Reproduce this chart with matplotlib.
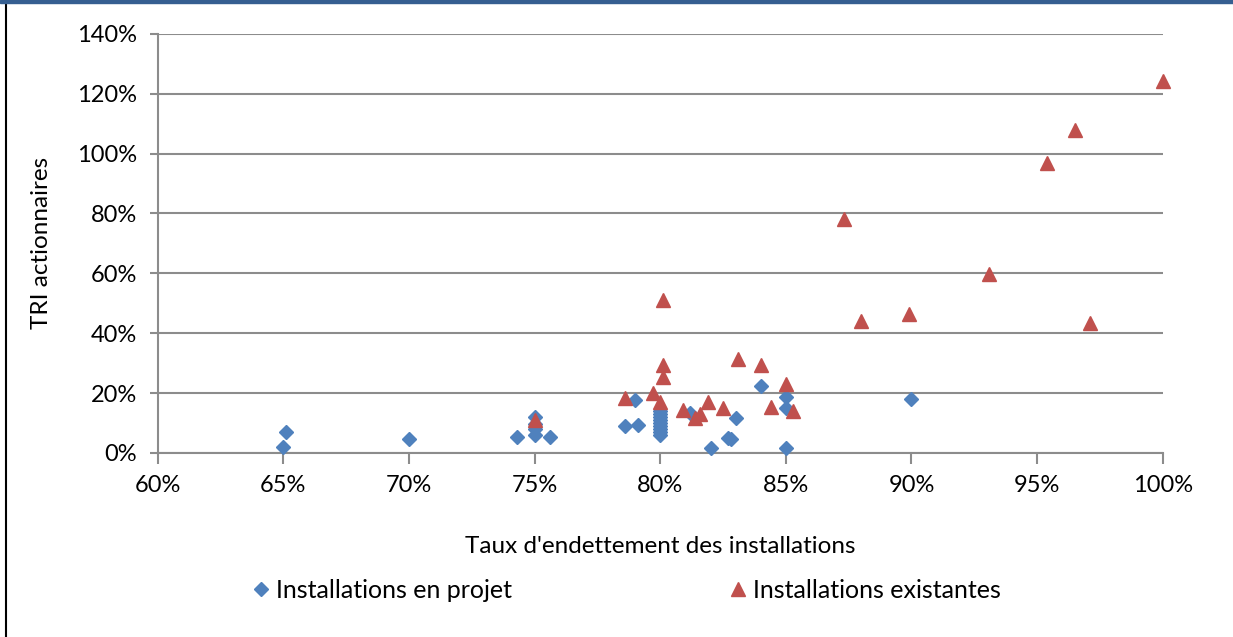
import matplotlib.pyplot as plt
from matplotlib.lines import Line2D
from matplotlib.patches import Rectangle
from matplotlib.ticker import PercentFormatter

# Installations en projet (taux d'endettement %, TRI %)
projet_x = [65.0, 65.1, 70.0, 74.3, 75.0, 75.0, 75.0, 75.0, 75.6,
            78.6, 79.0, 79.1, 80.0, 80.0, 80.0, 80.0, 80.0, 80.0, 80.0, 80.0, 80.0,
            81.2, 82.0, 82.7, 82.8, 83.0, 84.0, 85.0, 85.0, 85.0, 90.0]
projet_y = [2.0, 7.0, 4.6, 5.3, 12.0, 9.5, 8.0, 6.0, 5.3,
            9.0, 17.7, 9.4, 14.0, 13.0, 12.0, 11.0, 10.0, 9.0, 8.0, 7.0, 6.0,
            13.3, 1.5, 5.0, 4.5, 11.6, 22.2, 18.8, 14.9, 1.5, 17.9]

# Installations existantes
exist_x = [75.0, 78.6, 79.7, 80.0, 80.1, 80.1, 80.1, 80.9, 81.4, 81.6, 81.9,
           82.5, 83.1, 84.0, 84.4, 85.0, 85.3, 87.3, 88.0, 89.9, 93.1,
           95.4, 96.5, 97.1, 100.0]
exist_y = [11.0, 18.3, 19.9, 17.1, 51.1, 29.2, 25.5, 14.4, 11.6, 13.0, 16.9,
           15.1, 31.4, 29.2, 15.3, 23.0, 14.0, 78.1, 43.9, 46.3, 59.8,
           96.8, 107.7, 43.5, 124.1]

blue = "#4F81BD"
red = "#C0504D"
grid_col = "#8C8C8C"

plt.rcParams["font.family"] = ["Lato", "DejaVu Sans"]
plt.rcParams["font.size"] = 17.5

fig = plt.figure(figsize=(12.33, 6.37), dpi=100)
ax = fig.add_axes([0.128, 0.289, 0.815, 0.658])

ax.plot(projet_x, projet_y, "D", color=blue, markersize=7.5, label="Installations en projet",
        zorder=3, clip_on=False)
ax.plot(exist_x, exist_y, "^", color=red, markersize=10, label="Installations existantes",
        zorder=3, clip_on=False)

ax.set_xlim(60, 100)
ax.set_ylim(0, 140)
ax.set_xticks(range(60, 101, 5))
ax.set_yticks(range(0, 141, 20))
ax.xaxis.set_major_formatter(PercentFormatter(decimals=0))
ax.yaxis.set_major_formatter(PercentFormatter(decimals=0))
ax.grid(axis="y", color=grid_col, linewidth=1.5)
ax.set_axisbelow(True)
for s in ["top", "right"]:
    ax.spines[s].set_visible(False)
for s in ["left", "bottom"]:
    ax.spines[s].set_color(grid_col)
    ax.spines[s].set_linewidth(1.5)
ax.tick_params(axis="x", direction="out", length=8, width=1.5, color=grid_col, pad=8,
               labelsize=17)
ax.tick_params(axis="y", direction="out", length=6, width=1.5, color=grid_col, pad=9,
               labelsize=17)

ax.set_xlabel("Taux d'endettement des installations", labelpad=29)
ax.set_ylabel("TRI actionnaires", labelpad=18)

fig.legend(loc="center", bbox_to_anchor=(0.509, 0.073), ncol=2, frameon=False,
           fontsize=18, handlelength=0.5, handletextpad=0.35, columnspacing=8.8)

# cadre de la figure
fig.patches.append(Rectangle((0, 1 - 3 / 637), 1, 3 / 637, transform=fig.transFigure,
                             color="#365F91", zorder=5))
fig.lines.append(Line2D([5.5 / 1233, 5.5 / 1233], [0, 1], transform=fig.transFigure,
                        color="black", linewidth=1.5))

fig.savefig("out.png", dpi=100)
